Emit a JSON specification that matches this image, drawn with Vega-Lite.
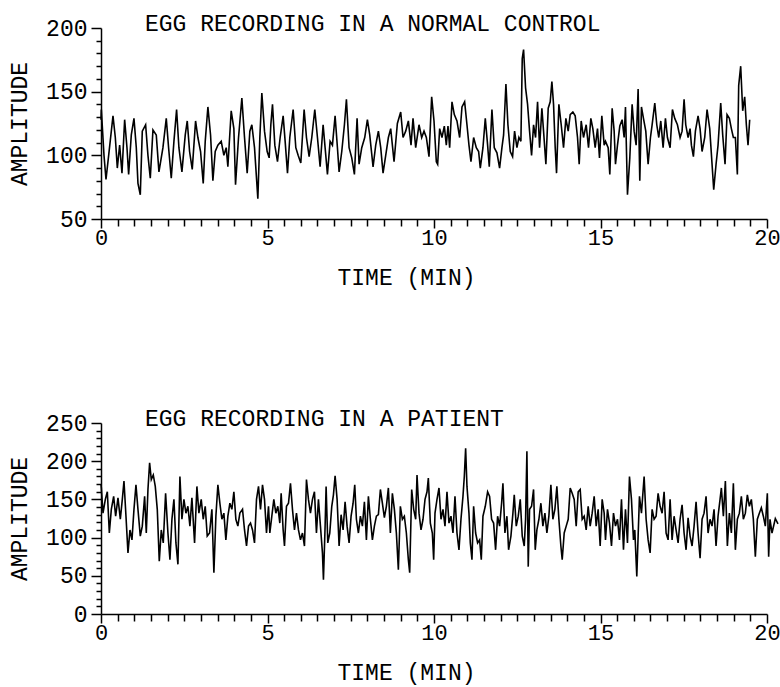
{
  "$schema": "https://vega.github.io/schema/vega-lite/v6.json",
  "padding": {"left": 8, "top": 13, "right": 5, "bottom": 5},
  "spacing": 119,
  "background": "white",
  "config": {
    "view": {"stroke": null},
    "font": "Liberation Mono",
    "axis": {
      "labelFont": "Liberation Mono", "labelFontSize": 23, "labelColor": "black",
      "titleFont": "Liberation Mono", "titleFontSize": 23, "titleFontWeight": "normal", "titleColor": "black",
      "domainColor": "black", "domainWidth": 1.5, "tickColor": "black", "tickWidth": 1.5,
      "grid": false, "labelFlush": false, "labelOverlap": false
    },
    "title": {"font": "Liberation Mono", "fontSize": 23, "fontWeight": "normal", "color": "black", "anchor": "start", "frame": "group", "dx": 44, "offset": -19}
  },
  "datasets": {
    "control": [
      {"t":0,"v":128},{"t":0.01,"v":136},{"t":0.09,"v":100},{"t":0.15,"v":81},{"t":0.23,"v":100},{"t":0.36,"v":131},{"t":0.43,"v":114},{"t":0.49,"v":90},{"t":0.56,"v":108},{"t":0.63,"v":86},{"t":0.71,"v":128},{"t":0.78,"v":106},{"t":0.83,"v":85},{"t":0.91,"v":116},{"t":0.99,"v":129},{"t":1.06,"v":106},{"t":1.11,"v":78},{"t":1.18,"v":69},{"t":1.24,"v":119},{"t":1.34,"v":124},{"t":1.41,"v":100},{"t":1.48,"v":82},{"t":1.56,"v":120},{"t":1.66,"v":116},{"t":1.74,"v":87},{"t":1.86,"v":106},{"t":1.96,"v":129},{"t":2.03,"v":106},{"t":2.11,"v":82},{"t":2.19,"v":111},{"t":2.27,"v":136},{"t":2.34,"v":106},{"t":2.43,"v":87},{"t":2.53,"v":116},{"t":2.59,"v":127},{"t":2.66,"v":103},{"t":2.74,"v":89},{"t":2.84,"v":127},{"t":2.91,"v":114},{"t":2.99,"v":103},{"t":3.07,"v":78},{"t":3.13,"v":111},{"t":3.21,"v":138},{"t":3.29,"v":116},{"t":3.36,"v":80},{"t":3.43,"v":103},{"t":3.51,"v":108},{"t":3.61,"v":111},{"t":3.69,"v":100},{"t":3.76,"v":106},{"t":3.81,"v":91},{"t":3.91,"v":135},{"t":3.99,"v":121},{"t":4.04,"v":77},{"t":4.13,"v":114},{"t":4.23,"v":145},{"t":4.31,"v":114},{"t":4.39,"v":86},{"t":4.47,"v":119},{"t":4.53,"v":124},{"t":4.61,"v":106},{"t":4.71,"v":66},{"t":4.77,"v":114},{"t":4.83,"v":149},{"t":4.91,"v":119},{"t":4.99,"v":103},{"t":5.05,"v":98},
      {"t":5.10,"v":124},{"t":5.15,"v":140},{"t":5.22,"v":108},{"t":5.30,"v":95},{"t":5.38,"v":114},{"t":5.47,"v":131},{"t":5.53,"v":111},{"t":5.60,"v":86},{"t":5.67,"v":114},{"t":5.77,"v":136},{"t":5.85,"v":106},{"t":5.92,"v":100},{"t":6.00,"v":94},{"t":6.10,"v":136},{"t":6.17,"v":114},{"t":6.25,"v":99},{"t":6.33,"v":114},{"t":6.42,"v":136},{"t":6.50,"v":114},{"t":6.58,"v":91},{"t":6.67,"v":124},{"t":6.73,"v":106},{"t":6.80,"v":85},{"t":6.88,"v":111},{"t":6.95,"v":108},{"t":7.03,"v":131},{"t":7.10,"v":106},{"t":7.15,"v":87},{"t":7.23,"v":103},{"t":7.31,"v":124},{"t":7.37,"v":144},{"t":7.45,"v":106},{"t":7.53,"v":98},{"t":7.61,"v":85},{"t":7.69,"v":129},{"t":7.75,"v":93},{"t":7.83,"v":106},{"t":7.92,"v":114},{"t":8.00,"v":128},{"t":8.07,"v":116},{"t":8.17,"v":91},{"t":8.25,"v":108},{"t":8.33,"v":119},{"t":8.40,"v":106},{"t":8.47,"v":86},{"t":8.55,"v":100},{"t":8.63,"v":114},{"t":8.70,"v":121},{"t":8.80,"v":95},{"t":8.90,"v":125},{"t":9.00,"v":134},{"t":9.07,"v":114},{"t":9.15,"v":119},{"t":9.23,"v":127},{"t":9.31,"v":108},{"t":9.37,"v":129},{"t":9.45,"v":106},{"t":9.55,"v":124},{"t":9.63,"v":114},{"t":9.70,"v":119},{"t":9.77,"v":114},{"t":9.85,"v":99},{"t":9.93,"v":146},{"t":10.00,"v":127},{"t":10.07,"v":95},
      {"t":10.11,"v":93},{"t":10.17,"v":121},{"t":10.24,"v":114},{"t":10.31,"v":123},{"t":10.37,"v":108},{"t":10.42,"v":123},{"t":10.47,"v":106},{"t":10.54,"v":142},{"t":10.61,"v":132},{"t":10.69,"v":127},{"t":10.77,"v":114},{"t":10.84,"v":138},{"t":10.92,"v":142},{"t":10.99,"v":124},{"t":11.05,"v":108},{"t":11.11,"v":95},{"t":11.19,"v":114},{"t":11.27,"v":106},{"t":11.34,"v":103},{"t":11.39,"v":90},{"t":11.47,"v":106},{"t":11.54,"v":129},{"t":11.61,"v":108},{"t":11.66,"v":91},{"t":11.74,"v":136},{"t":11.81,"v":106},{"t":11.89,"v":102},{"t":11.97,"v":90},{"t":12.04,"v":106},{"t":12.09,"v":116},{"t":12.16,"v":156},{"t":12.22,"v":124},{"t":12.29,"v":103},{"t":12.36,"v":99},{"t":12.42,"v":119},{"t":12.49,"v":106},{"t":12.55,"v":114},{"t":12.61,"v":111},{"t":12.65,"v":176},{"t":12.69,"v":183},{"t":12.75,"v":153},{"t":12.81,"v":140},{"t":12.87,"v":119},{"t":12.93,"v":100},{"t":12.99,"v":124},{"t":13.05,"v":114},{"t":13.11,"v":142},{"t":13.17,"v":106},{"t":13.24,"v":137},{"t":13.29,"v":119},{"t":13.36,"v":93},{"t":13.43,"v":137},{"t":13.49,"v":142},{"t":13.54,"v":158},{"t":13.59,"v":140},{"t":13.64,"v":106},{"t":13.68,"v":86},{"t":13.75,"v":140},{"t":13.82,"v":124},{"t":13.89,"v":106},{"t":13.96,"v":129},{"t":14.03,"v":119},{"t":14.09,"v":132},{"t":14.17,"v":134},{"t":14.24,"v":131},{"t":14.31,"v":114},{"t":14.36,"v":93},{"t":14.42,"v":127},{"t":14.49,"v":114},{"t":14.57,"v":124},{"t":14.64,"v":106},{"t":14.71,"v":129},{"t":14.77,"v":121},{"t":14.84,"v":106},{"t":14.91,"v":121},{"t":14.97,"v":98},{"t":15.04,"v":131},{"t":15.11,"v":108},
      {"t":15.15,"v":111},{"t":15.23,"v":106},{"t":15.28,"v":85},{"t":15.35,"v":137},{"t":15.41,"v":119},{"t":15.45,"v":93},{"t":15.51,"v":108},{"t":15.58,"v":123},{"t":15.65,"v":128},{"t":15.71,"v":114},{"t":15.75,"v":138},{"t":15.81,"v":69},{"t":15.88,"v":98},{"t":15.95,"v":140},{"t":16.01,"v":119},{"t":16.07,"v":108},{"t":16.13,"v":152},{"t":16.18,"v":80},{"t":16.23,"v":138},{"t":16.29,"v":129},{"t":16.36,"v":119},{"t":16.43,"v":93},{"t":16.50,"v":114},{"t":16.55,"v":124},{"t":16.63,"v":141},{"t":16.69,"v":124},{"t":16.75,"v":114},{"t":16.81,"v":127},{"t":16.88,"v":106},{"t":16.95,"v":129},{"t":17.01,"v":114},{"t":17.09,"v":106},{"t":17.16,"v":136},{"t":17.23,"v":129},{"t":17.31,"v":124},{"t":17.39,"v":114},{"t":17.45,"v":119},{"t":17.51,"v":144},{"t":17.56,"v":124},{"t":17.63,"v":114},{"t":17.69,"v":121},{"t":17.73,"v":108},{"t":17.79,"v":99},{"t":17.85,"v":119},{"t":17.93,"v":131},{"t":17.99,"v":121},{"t":18.05,"v":103},{"t":18.13,"v":114},{"t":18.20,"v":136},{"t":18.28,"v":121},{"t":18.35,"v":93},{"t":18.40,"v":73},{"t":18.47,"v":93},{"t":18.53,"v":108},{"t":18.61,"v":141},{"t":18.67,"v":116},{"t":18.74,"v":93},{"t":18.80,"v":132},{"t":18.87,"v":129},{"t":18.93,"v":121},{"t":18.99,"v":114},{"t":19.05,"v":114},{"t":19.11,"v":85},{"t":19.15,"v":155},{"t":19.21,"v":170},{"t":19.27,"v":135},{"t":19.33,"v":146},{"t":19.38,"v":124},{"t":19.43,"v":108},{"t":19.48,"v":128}
    ],
    "patient": [
      {"t":0,"v":170},{"t":0.01,"v":165},{"t":0.06,"v":132},{"t":0.13,"v":150},{"t":0.19,"v":160},{"t":0.25,"v":106},{"t":0.31,"v":137},{"t":0.38,"v":154},{"t":0.44,"v":128},{"t":0.51,"v":152},{"t":0.58,"v":124},{"t":0.64,"v":150},{"t":0.69,"v":174},{"t":0.75,"v":128},{"t":0.81,"v":80},{"t":0.87,"v":110},{"t":0.93,"v":97},{"t":0.99,"v":137},{"t":1.05,"v":169},{"t":1.11,"v":137},{"t":1.18,"v":102},{"t":1.24,"v":115},{"t":1.31,"v":154},{"t":1.36,"v":106},{"t":1.41,"v":163},{"t":1.46,"v":198},{"t":1.51,"v":176},{"t":1.57,"v":182},{"t":1.63,"v":167},{"t":1.69,"v":137},{"t":1.75,"v":69},{"t":1.81,"v":110},{"t":1.87,"v":93},{"t":1.94,"v":158},{"t":2.01,"v":106},{"t":2.07,"v":71},{"t":2.13,"v":124},{"t":2.19,"v":150},{"t":2.25,"v":93},{"t":2.31,"v":65},{"t":2.37,"v":180},{"t":2.43,"v":124},{"t":2.49,"v":150},{"t":2.55,"v":132},{"t":2.61,"v":141},{"t":2.67,"v":115},{"t":2.73,"v":152},{"t":2.81,"v":93},{"t":2.88,"v":167},{"t":2.94,"v":132},{"t":3.01,"v":150},{"t":3.07,"v":124},{"t":3.13,"v":141},{"t":3.19,"v":102},{"t":3.26,"v":106},{"t":3.33,"v":137},{"t":3.39,"v":54},{"t":3.45,"v":128},{"t":3.51,"v":169},{"t":3.57,"v":145},{"t":3.63,"v":124},{"t":3.69,"v":132},{"t":3.75,"v":97},{"t":3.81,"v":128},{"t":3.87,"v":145},{"t":3.93,"v":137},{"t":3.99,"v":160},{"t":4.05,"v":124},{"t":4.11,"v":115},{"t":4.17,"v":132},{"t":4.25,"v":137},{"t":4.31,"v":110},{"t":4.37,"v":89},{"t":4.43,"v":115},{"t":4.49,"v":119},{"t":4.55,"v":110},{"t":4.61,"v":93},{"t":4.67,"v":150},{"t":4.73,"v":167},{"t":4.79,"v":137},{"t":4.85,"v":169},{"t":4.91,"v":150},{"t":4.97,"v":106},{"t":5.03,"v":141},
      {"t":5.07,"v":106},{"t":5.13,"v":128},{"t":5.19,"v":150},{"t":5.25,"v":132},{"t":5.31,"v":141},{"t":5.37,"v":119},{"t":5.41,"v":158},{"t":5.47,"v":110},{"t":5.51,"v":89},{"t":5.57,"v":141},{"t":5.63,"v":145},{"t":5.69,"v":171},{"t":5.75,"v":137},{"t":5.81,"v":110},{"t":5.87,"v":132},{"t":5.93,"v":110},{"t":5.99,"v":97},{"t":6.05,"v":106},{"t":6.11,"v":89},{"t":6.17,"v":176},{"t":6.23,"v":150},{"t":6.29,"v":132},{"t":6.35,"v":150},{"t":6.41,"v":160},{"t":6.47,"v":106},{"t":6.53,"v":150},{"t":6.59,"v":115},{"t":6.65,"v":80},{"t":6.68,"v":45},{"t":6.73,"v":115},{"t":6.76,"v":167},{"t":6.81,"v":93},{"t":6.87,"v":106},{"t":6.93,"v":141},{"t":6.98,"v":156},{"t":7.03,"v":181},{"t":7.09,"v":150},{"t":7.15,"v":89},{"t":7.21,"v":130},{"t":7.27,"v":110},{"t":7.33,"v":147},{"t":7.39,"v":115},{"t":7.45,"v":93},{"t":7.51,"v":128},{"t":7.57,"v":145},{"t":7.62,"v":169},{"t":7.67,"v":124},{"t":7.73,"v":106},{"t":7.79,"v":128},{"t":7.85,"v":115},{"t":7.91,"v":147},{"t":7.97,"v":97},{"t":8.03,"v":154},{"t":8.09,"v":124},{"t":8.15,"v":97},{"t":8.21,"v":115},{"t":8.27,"v":128},{"t":8.33,"v":130},{"t":8.39,"v":163},{"t":8.45,"v":145},{"t":8.51,"v":126},{"t":8.57,"v":141},{"t":8.63,"v":165},{"t":8.69,"v":106},{"t":8.75,"v":158},{"t":8.81,"v":137},{"t":8.87,"v":106},{"t":8.93,"v":58},{"t":8.99,"v":141},{"t":9.05,"v":124},{"t":9.11,"v":128},{"t":9.17,"v":106},{"t":9.23,"v":71},{"t":9.27,"v":54},{"t":9.33,"v":163},{"t":9.39,"v":137},{"t":9.45,"v":124},{"t":9.49,"v":182},{"t":9.55,"v":132},{"t":9.61,"v":110},{"t":9.67,"v":124},{"t":9.73,"v":150},{"t":9.79,"v":160},{"t":9.83,"v":178},{"t":9.89,"v":119},{"t":9.95,"v":106},{"t":9.99,"v":71},{"t":10.03,"v":132},{"t":10.09,"v":150},
      {"t":10.15,"v":165},{"t":10.21,"v":124},{"t":10.27,"v":137},{"t":10.33,"v":115},{"t":10.39,"v":160},{"t":10.45,"v":119},{"t":10.51,"v":128},{"t":10.57,"v":106},{"t":10.63,"v":154},{"t":10.69,"v":106},{"t":10.75,"v":84},{"t":10.81,"v":124},{"t":10.87,"v":154},{"t":10.91,"v":180},{"t":10.95,"v":217},{"t":10.99,"v":167},{"t":11.05,"v":132},{"t":11.09,"v":93},{"t":11.14,"v":71},{"t":11.19,"v":141},{"t":11.25,"v":106},{"t":11.31,"v":93},{"t":11.37,"v":97},{"t":11.42,"v":71},{"t":11.47,"v":128},{"t":11.54,"v":141},{"t":11.61,"v":160},{"t":11.67,"v":154},{"t":11.73,"v":124},{"t":11.79,"v":119},{"t":11.85,"v":84},{"t":11.91,"v":128},{"t":11.97,"v":115},{"t":12.03,"v":145},{"t":12.07,"v":171},{"t":12.13,"v":106},{"t":12.19,"v":128},{"t":12.24,"v":84},{"t":12.31,"v":102},{"t":12.37,"v":132},{"t":12.41,"v":156},{"t":12.47,"v":115},{"t":12.53,"v":128},{"t":12.59,"v":150},{"t":12.65,"v":102},{"t":12.71,"v":89},{"t":12.75,"v":124},{"t":12.79,"v":213},{"t":12.83,"v":62},{"t":12.87,"v":137},{"t":12.93,"v":141},{"t":12.99,"v":163},{"t":13.04,"v":84},{"t":13.09,"v":110},{"t":13.15,"v":124},{"t":13.21,"v":145},{"t":13.27,"v":115},{"t":13.33,"v":132},{"t":13.39,"v":106},{"t":13.45,"v":128},{"t":13.51,"v":169},{"t":13.57,"v":124},{"t":13.63,"v":137},{"t":13.69,"v":167},{"t":13.75,"v":124},{"t":13.81,"v":89},{"t":13.85,"v":71},{"t":13.91,"v":106},{"t":13.97,"v":115},{"t":14.03,"v":124},{"t":14.09,"v":165},{"t":14.15,"v":158},{"t":14.21,"v":150},{"t":14.27,"v":115},{"t":14.33,"v":160},{"t":14.39,"v":163},{"t":14.45,"v":124},{"t":14.51,"v":128},{"t":14.57,"v":110},{"t":14.63,"v":141},{"t":14.69,"v":115},{"t":14.75,"v":132},{"t":14.81,"v":154},{"t":14.87,"v":115},{"t":14.93,"v":137},{"t":14.99,"v":89},{"t":15.05,"v":150},{"t":15.11,"v":132},
      {"t":15.15,"v":97},{"t":15.21,"v":137},{"t":15.27,"v":119},{"t":15.33,"v":89},{"t":15.39,"v":132},{"t":15.45,"v":115},{"t":15.51,"v":124},{"t":15.57,"v":97},{"t":15.63,"v":150},{"t":15.69,"v":84},{"t":15.75,"v":137},{"t":15.81,"v":93},{"t":15.87,"v":180},{"t":15.93,"v":150},{"t":15.99,"v":97},{"t":16.03,"v":110},{"t":16.09,"v":49},{"t":16.13,"v":102},{"t":16.17,"v":154},{"t":16.23,"v":132},{"t":16.31,"v":180},{"t":16.37,"v":124},{"t":16.43,"v":97},{"t":16.49,"v":80},{"t":16.55,"v":137},{"t":16.61,"v":124},{"t":16.67,"v":128},{"t":16.73,"v":158},{"t":16.79,"v":141},{"t":16.85,"v":132},{"t":16.91,"v":160},{"t":16.97,"v":106},{"t":17.03,"v":97},{"t":17.09,"v":150},{"t":17.15,"v":97},{"t":17.21,"v":128},{"t":17.27,"v":110},{"t":17.33,"v":93},{"t":17.39,"v":124},{"t":17.45,"v":143},{"t":17.51,"v":106},{"t":17.57,"v":84},{"t":17.63,"v":126},{"t":17.69,"v":102},{"t":17.75,"v":89},{"t":17.81,"v":115},{"t":17.87,"v":147},{"t":17.93,"v":106},{"t":17.99,"v":73},{"t":18.05,"v":124},{"t":18.11,"v":132},{"t":18.17,"v":154},{"t":18.23,"v":106},{"t":18.29,"v":124},{"t":18.35,"v":115},{"t":18.41,"v":137},{"t":18.47,"v":89},{"t":18.53,"v":128},{"t":18.59,"v":150},{"t":18.63,"v":165},{"t":18.69,"v":128},{"t":18.75,"v":174},{"t":18.81,"v":89},{"t":18.87,"v":132},{"t":18.93,"v":106},{"t":18.99,"v":171},{"t":19.05,"v":84},{"t":19.11,"v":124},{"t":19.17,"v":132},{"t":19.23,"v":154},{"t":19.29,"v":124},{"t":19.35,"v":132},{"t":19.41,"v":156},{"t":19.47,"v":141},{"t":19.53,"v":150},{"t":19.59,"v":124},{"t":19.65,"v":75},{"t":19.71,"v":124},{"t":19.77,"v":132},{"t":19.83,"v":139},{"t":19.89,"v":128},{"t":19.95,"v":115},{"t":20.01,"v":158},{"t":20.05,"v":75},{"t":20.09,"v":124},{"t":20.15,"v":106},{"t":20.25,"v":125},{"t":20.33,"v":118}
    ]
  },
  "vconcat": [
    {
      "title": "EGG RECORDING IN A NORMAL CONTROL",
      "width": 666, "height": 191,
      "data": {"name": "control"},
      "mark": {"type": "line", "color": "black", "strokeWidth": 1.6, "clip": false},
      "encoding": {
        "x": {"field": "t", "type": "quantitative", "scale": {"domain": [0, 20], "nice": false, "zero": false},
          "axis": {"title": "TIME (MIN)", "titleX": 305, "titleY": 47, "labelFontSize": 22, "values": [0,0.5,1,1.5,2,2.5,3,3.5,4,4.5,5,5.5,6,6.5,7,7.5,8,8.5,9,9.5,10,10.5,11,11.5,12,12.5,13,13.5,14,14.5,15,15.5,16,16.5,17,17.5,18,18.5,19,19.5,20],
            "labelExpr": "datum.value % 5 === 0 ? format(datum.value, 'd') : ''", "labelPadding": -1,
            "tickSize": {"condition": {"test": "datum.value % 5 === 0", "value": 9}, "value": 7}}},
        "y": {"field": "v", "type": "quantitative", "scale": {"domain": [50, 200], "nice": false, "zero": false},
          "axis": {"title": "AMPLITUDE", "titlePadding": 14, "values": [50,60,70,80,90,100,110,120,130,140,150,160,170,180,190,200],
            "labelExpr": "datum.value % 50 === 0 ? datum.label : ''", "labelPadding": 4,
            "tickSize": {"condition": {"test": "datum.value % 50 === 0", "value": 10}, "value": 5}}}
      }
    },
    {
      "title": "EGG RECORDING IN A PATIENT",
      "width": 666, "height": 191,
      "data": {"name": "patient"},
      "mark": {"type": "line", "color": "black", "strokeWidth": 1.6, "clip": false},
      "encoding": {
        "x": {"field": "t", "type": "quantitative", "scale": {"domain": [0, 20], "nice": false, "zero": false},
          "axis": {"title": "TIME (MIN)", "titleX": 305, "titleY": 47, "labelFontSize": 22, "values": [0,0.5,1,1.5,2,2.5,3,3.5,4,4.5,5,5.5,6,6.5,7,7.5,8,8.5,9,9.5,10,10.5,11,11.5,12,12.5,13,13.5,14,14.5,15,15.5,16,16.5,17,17.5,18,18.5,19,19.5,20],
            "labelExpr": "datum.value % 5 === 0 ? format(datum.value, 'd') : ''", "labelPadding": -1,
            "tickSize": {"condition": {"test": "datum.value % 5 === 0", "value": 9}, "value": 7}}},
        "y": {"field": "v", "type": "quantitative", "scale": {"domain": [0, 250], "nice": false, "zero": false},
          "axis": {"title": "AMPLITUDE", "titlePadding": 14, "values": [0,10,20,30,40,50,60,70,80,90,100,110,120,130,140,150,160,170,180,190,200,210,220,230,240,250],
            "labelExpr": "datum.value % 50 === 0 ? datum.label : ''", "labelPadding": 4,
            "tickSize": {"condition": {"test": "datum.value % 50 === 0", "value": 10}, "value": 5}}}
      }
    }
  ]
}
